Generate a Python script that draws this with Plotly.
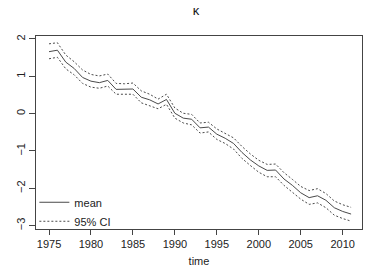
import plotly.graph_objects as go

years = list(range(1975, 2012))
kappa_mean = [1.66, 1.70, 1.38, 1.21, 0.97, 0.87, 0.83, 0.89, 0.65, 0.65,
              0.66, 0.44, 0.37, 0.26, 0.38, 0.01, -0.12, -0.15, -0.38, -0.36,
              -0.55, -0.66, -0.80, -1.04, -1.24, -1.40, -1.52, -1.51, -1.75, -1.92,
              -2.12, -2.25, -2.20, -2.32, -2.52, -2.62, -2.69]
ci_upper = [1.87, 1.90, 1.57, 1.39, 1.17, 1.05, 1.01, 1.06, 0.81, 0.80,
            0.82, 0.61, 0.52, 0.39, 0.52, 0.15, 0.01, -0.02, -0.25, -0.23,
            -0.41, -0.52, -0.65, -0.88, -1.08, -1.25, -1.36, -1.35, -1.58, -1.76,
            -1.95, -2.06, -2.01, -2.14, -2.34, -2.44, -2.51]
ci_lower = [1.47, 1.51, 1.20, 1.04, 0.81, 0.71, 0.68, 0.74, 0.52, 0.51,
            0.52, 0.29, 0.21, 0.13, 0.25, -0.12, -0.25, -0.30, -0.52, -0.49,
            -0.69, -0.80, -0.95, -1.20, -1.39, -1.57, -1.69, -1.69, -1.92, -2.10,
            -2.29, -2.43, -2.39, -2.52, -2.72, -2.81, -2.88]

line_col = "#4a4a4a"
fig = go.Figure()
fig.add_trace(go.Scatter(x=years, y=kappa_mean, mode="lines", name="mean",
                         line=dict(color=line_col, width=1)))
fig.add_trace(go.Scatter(x=years, y=ci_upper, mode="lines", name="95% CI",
                         line=dict(color=line_col, width=1, dash="2px,2px")))
fig.add_trace(go.Scatter(x=years, y=ci_lower, mode="lines", name="95% CI",
                         showlegend=False,
                         line=dict(color=line_col, width=1, dash="2px,2px")))

font = "Liberation Sans, Arial, Helvetica, sans-serif"
fig.update_layout(
    width=382, height=273,
    margin=dict(l=36, r=20, t=36, b=44),
    paper_bgcolor="white", plot_bgcolor="white",
    font=dict(family=font, size=11, color="#222222"),
    title=dict(text="κ", x=0.513, xanchor="center", y=0.96, yanchor="middle",
               font=dict(size=13, color="#111111")),
    showlegend=True,
    legend=dict(x=-0.005, y=-0.035, xanchor="left", yanchor="bottom",
                bgcolor="rgba(0,0,0,0)", font=dict(size=11),
                itemwidth=30, tracegroupgap=0),
    xaxis=dict(range=[1973.45, 2012.3], tickvals=[1975, 1980, 1985, 1990, 1995, 2000, 2005, 2010],
               showline=True, linecolor="#444444", linewidth=1, mirror=True,
               ticks="outside", ticklen=5, tickcolor="#444444", showgrid=False,
               zeroline=False, automargin=False,
               title=dict(text="time", standoff=8, font=dict(size=11))),
    yaxis=dict(range=[-3.09, 2.08], tickvals=[-3, -2, -1, 0, 1, 2],
               ticktext=["−3", "−2", "−1", "0", "1", "2"], tickangle=-90,
               showline=True, linecolor="#444444", linewidth=1, mirror=True,
               ticks="outside", ticklen=6, tickcolor="#444444", showgrid=False,
               zeroline=False, automargin=False),
)
fig.write_html("out.html", config={"displayModeBar": False},
               post_script="document.body.style.margin='0';document.body.style.overflow='hidden';")
